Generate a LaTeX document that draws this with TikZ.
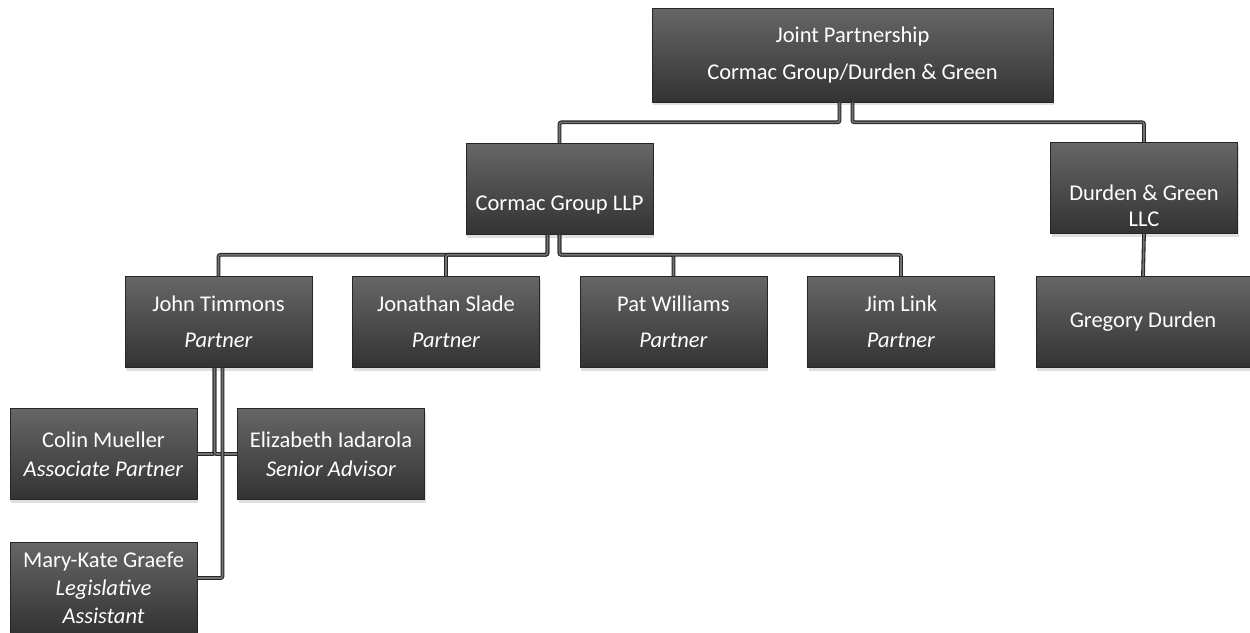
\documentclass[tikz,border=0pt]{standalone}
\usepackage{fontspec}
\setmainfont{Carlito}
\usetikzlibrary{shadows}
\newcommand{\lowered}[2]{\raisebox{-#1}[0pt][0pt]{\begin{tabular}{@{}c@{}}#2\end{tabular}}}
\tikzset{
  orgbox/.style={draw=black!85, line width=0.6pt, top color=black!60, bottom color=black!80,
    text=white, font=\fontsize{22.5}{26}\selectfont, align=center,
    minimum width=187pt, minimum height=91pt, inner sep=0pt,
    drop shadow={shadow xshift=1pt, shadow yshift=-3pt, opacity=0.25}},
  link/.style={draw=black!85, line width=1.1pt, double=black!55, double distance=1.6pt, rounded corners=2pt}
}
\begin{document}
\begin{tikzpicture}[x=1pt,y=-1pt]
\useasboundingbox (0,0) rectangle (1250,632);
\node[orgbox, minimum width=401pt, minimum height=94pt] (jp) at (852.5,55) {Joint Partnership\\[10pt]Cormac Group/Durden \& Green};
\node[orgbox] (cg) at (559.5,189) {\lowered{21pt}{Cormac Group LLP}};
\node[orgbox] (dg) at (1144,188) {\lowered{25pt}{Durden \& Green\\LLC}};
\node[orgbox] (jt) at (218.5,322) {John Timmons\\[10pt]\textit{Partner}};
\node[orgbox] (js) at (446,322) {Jonathan Slade\\[10pt]\textit{Partner}};
\node[orgbox] (pw) at (673.5,322) {Pat Williams\\[10pt]\textit{Partner}};
\node[orgbox] (jl) at (901,322) {Jim Link\\[10pt]\textit{Partner}};
\node[orgbox, minimum width=214pt] (gd) at (1143,322) {Gregory Durden};
\node[orgbox] (cm) at (103.5,454) {Colin Mueller\\[3pt]\textit{Associate Partner}};
\node[orgbox] (ei) at (331,454) {Elizabeth Iadarola\\[3pt]\textit{Senior Advisor}};
\node[orgbox] (mk) at (103.5,588) {Mary-Kate Graefe\\[2pt]\textit{Legislative}\\[2pt]\textit{Assistant}};

\draw[link] ([xshift=-13pt]jp.south) -- ++(0,20) -| (cg.north);
\draw[link] (jp.south) -- ++(0,20) -| (dg.north);
\draw[link] ([xshift=-12pt]cg.south) -- ++(0,20) -| (jt.north);
\draw[link] ([xshift=-12pt]cg.south) -- ++(0,20) -| (js.north);
\draw[link] (cg.south) -- ++(0,20) -| (pw.north);
\draw[link] (cg.south) -- ++(0,20) -| (jl.north);
\draw[link] (dg.south) -- (gd.north);
\draw[link] ([xshift=-4pt]jt.south) |- (cm.east);
\draw[link] ([xshift=-4pt]jt.south) |- (ei.west);
\draw[link] ([xshift=4pt]jt.south) |- ([yshift=10pt]mk.east);
\end{tikzpicture}
\end{document}
